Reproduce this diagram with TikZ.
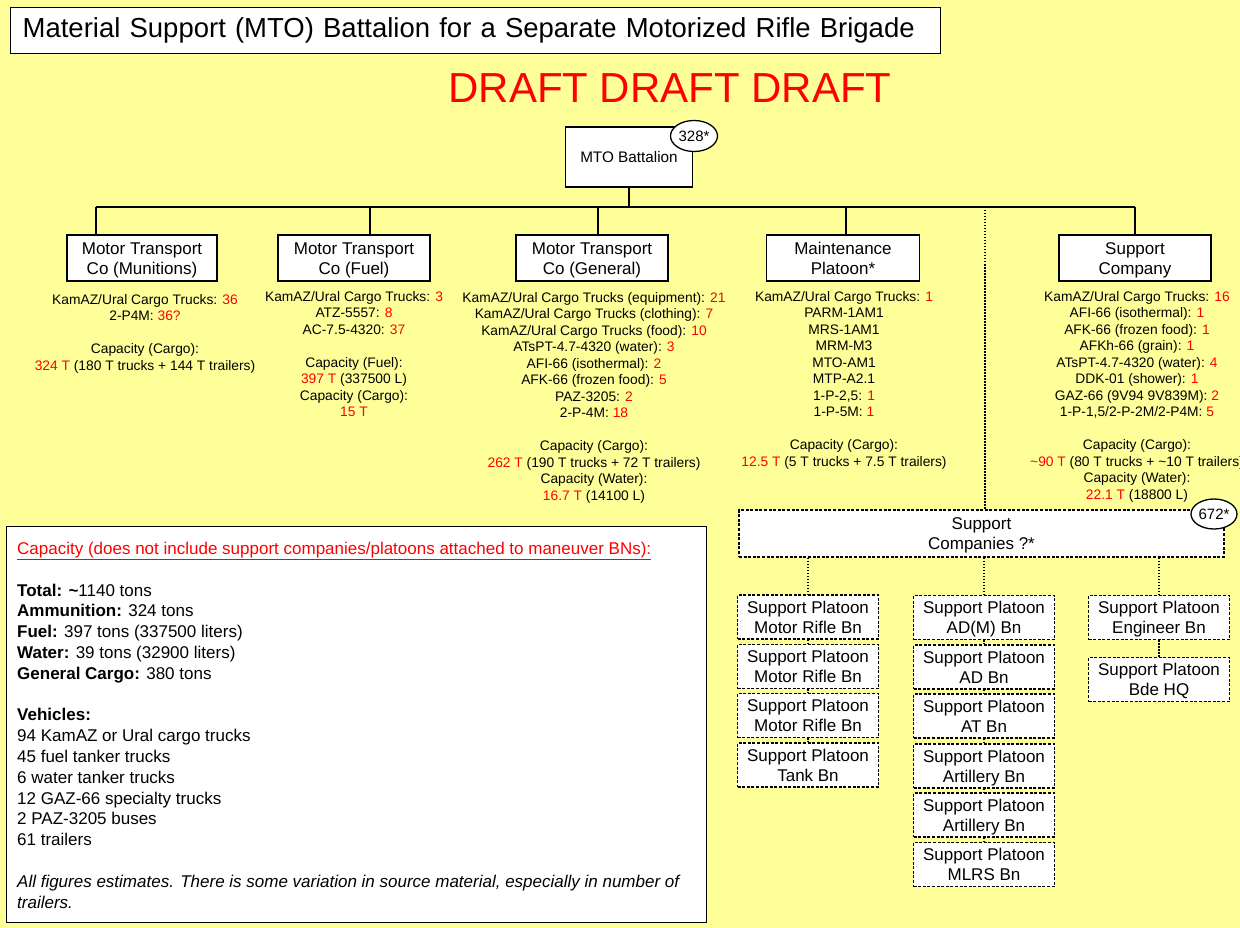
\documentclass[tikz,border=0pt]{standalone}
\usepackage{fontspec}
\setmainfont{Liberation Sans}
\usetikzlibrary{shapes.geometric}
\definecolor{bgyellow}{RGB}{255,255,153}
\definecolor{draftred}{RGB}{255,0,0}
\newcommand\rnum[1]{\textcolor{draftred}{#1}}
\newcommand\fs[2]{\fontsize{#1}{#2}\selectfont}
\newcommand\tstrut{\rule{0pt}{16pt}}
\newcommand\bstrut{\rule[-4pt]{0pt}{4pt}}
\begin{document}
\begin{tikzpicture}[x=1pt,y=-1pt,
  cobox/.style={draw, fill=white, line width=1.8pt, minimum width=#1, minimum height=46pt, align=center, inner sep=0pt, font=\fs{17}{20}},
  plbox/.style={draw, fill=white, line width=1.4pt, dash pattern=on 3pt off 1.6pt, minimum width=141pt, minimum height=44pt, align=center, inner sep=0pt, font=\fs{17}{20}},
  info/.style={align=center, inner sep=0pt, anchor=north, font=\fs{13.8}{16.5}},
  tree/.style={line width=1.5pt},
  dotline/.style={line width=1.5pt, dash pattern=on 1.5pt off 1.5pt},
  tag/.style={draw, fill=white, ellipse, line width=1.3pt, inner sep=0pt, font=\fs{15}{18}}
]
\fill[bgyellow] (0,0) rectangle (1240,928);
\useasboundingbox (0,0) rectangle (1240,928);

% title
\node[draw, fill=white, line width=1.3pt, anchor=north west, text width=906pt, inner xsep=12pt, minimum height=46pt, align=left, font=\fs{27.5}{30}] (title) at (10,7) {Material Support (MTO) Battalion for a Separate Motorized Rifle Brigade};
\node[text=draftred, font=\fs{42}{46}, inner sep=0pt] (draft) at (670,88) {DRAFT DRAFT DRAFT};

% top node
\node[draw, fill=white, line width=1.5pt, minimum width=127pt, minimum height=60pt, inner sep=0pt, font=\fs{15.3}{18}] (mto) at (629,157) {MTO Battalion};
\node[tag, minimum width=47pt, minimum height=31pt] (t328) at (694,136) {328*};

% companies
\node[cobox=150pt] (mun) at (142,258) {\tstrut Motor Transport\\Co (Munitions)\bstrut};
\node[cobox=152pt] (fuel) at (354,258) {\tstrut Motor Transport\\Co (Fuel)\bstrut};
\node[cobox=152pt] (gen) at (592,258) {\tstrut Motor Transport\\Co (General)\bstrut};
\node[cobox=153pt] (mnt) at (843,258) {\tstrut Maintenance\\Platoon*\bstrut};
\node[cobox=152pt] (sup) at (1135,258) {\tstrut Support\\Company\bstrut};

% tree connectors
\coordinate (hl) at (96,207);
\coordinate (hf) at (370,207);
\coordinate (hg) at (598,207);
\coordinate (hm) at (846,207);
\coordinate (hd) at (985,207);
\coordinate (hr) at (1135,207);
\draw[tree] (mto.south) -- (mto.south |- hl);
\draw[tree] (hl) -- (hr);
\draw[tree] (hl) -- (hl |- mun.north);
\draw[tree] (hf) -- (hf |- fuel.north);
\draw[tree] (hg) -- (hg |- gen.north);
\draw[tree] (hm) -- (hm |- mnt.north);
\draw[tree] (hr) -- (sup.north);

% info blocks
\node[info] (imun) at (145,294) {KamAZ/Ural Cargo Trucks: \rnum{36}\\
2-P4M: \rnum{36?}\\[16.5pt]
Capacity (Cargo):\\
\rnum{324 T} (180 T trucks + 144 T trailers)};

\node[info] (ifuel) at (354,291) {KamAZ/Ural Cargo Trucks: \rnum{3}\\
ATZ-5557: \rnum{8}\\
AC-7.5-4320: \rnum{37}\\[16.5pt]
Capacity (Fuel):\\
\rnum{397 T} (337500 L)\\
Capacity (Cargo):\\
\rnum{15 T}};

\node[info] (igen) at (594,292) {KamAZ/Ural Cargo Trucks (equipment): \rnum{21}\\
KamAZ/Ural Cargo Trucks (clothing): \rnum{7}\\
KamAZ/Ural Cargo Trucks (food): \rnum{10}\\
ATsPT-4.7-4320 (water): \rnum{3}\\
AFI-66 (isothermal): \rnum{2}\\
AFK-66 (frozen food): \rnum{5}\\
PAZ-3205: \rnum{2}\\
2-P-4M: \rnum{18}\\[16.5pt]
Capacity (Cargo):\\
\rnum{262 T} (190 T trucks + 72 T trailers)\\
Capacity (Water):\\
\rnum{16.7 T} (14100 L)};

\node[info] (imnt) at (844,291) {KamAZ/Ural Cargo Trucks: \rnum{1}\\
PARM-1AM1\\
MRS-1AM1\\
MRM-M3\\
MTO-AM1\\
MTP-A2.1\\
1-P-2,5: \rnum{1}\\
1-P-5M: \rnum{1}\\[16.5pt]
Capacity (Cargo):\\
\rnum{12.5 T} (5 T trucks + 7.5 T trailers)};

\node[info] (isup) at (1137,291) {KamAZ/Ural Cargo Trucks: \rnum{16}\\
AFI-66 (isothermal): \rnum{1}\\
AFK-66 (frozen food): \rnum{1}\\
AFKh-66 (grain): \rnum{1}\\
ATsPT-4.7-4320 (water): \rnum{4}\\
DDK-01 (shower): \rnum{1}\\
GAZ-66 (9V94 9V839M): \rnum{2}\\
1-P-1,5/2-P-2M/2-P4M: \rnum{5}\\[16.5pt]
Capacity (Cargo):\\
\rnum{\textasciitilde90 T} (80 T trucks + \textasciitilde10 T trailers)\\
Capacity (Water):\\
\rnum{22.1 T} (18800 L)};

% support companies
\node[plbox, minimum width=485pt, minimum height=47pt] (supc) at (981.5,533.5) {\tstrut Support\\Companies ?*\bstrut};
\node[tag, minimum width=46pt, minimum height=30pt] (t672) at (1214,514) {672*};
\draw[dotline] (hd) -- (hd |- supc.north);

% platoons
\node[plbox] (p11) at (808,617) {\tstrut Support Platoon\\Motor Rifle Bn\bstrut};
\node[plbox] (p12) at (808,666.5) {\tstrut Support Platoon\\Motor Rifle Bn\bstrut};
\node[plbox] (p13) at (808,715.5) {\tstrut Support Platoon\\Motor Rifle Bn\bstrut};
\node[plbox] (p14) at (808,765) {\tstrut Support Platoon\\Tank Bn\bstrut};

\node[plbox] (p21) at (984,617.5) {\tstrut Support Platoon\\AD(M) Bn\bstrut};
\node[plbox] (p22) at (984,667) {\tstrut Support Platoon\\AD Bn\bstrut};
\node[plbox] (p23) at (984,716) {\tstrut Support Platoon\\AT Bn\bstrut};
\node[plbox] (p24) at (984,766) {\tstrut Support Platoon\\Artillery Bn\bstrut};
\node[plbox] (p25) at (984,815) {\tstrut Support Platoon\\Artillery Bn\bstrut};
\node[plbox] (p26) at (984,864.5) {\tstrut Support Platoon\\MLRS Bn\bstrut};

\node[plbox] (p31) at (1159,617.5) {\tstrut Support Platoon\\Engineer Bn\bstrut};
\node[plbox] (p32) at (1159,679.5) {\tstrut Support Platoon\\Bde HQ\bstrut};

\draw[dotline] (supc.south -| p11.north) -- (p11.north);
\draw[dotline] (supc.south -| p21.north) -- (p21.north);
\draw[dotline] (supc.south -| p31.north) -- (p31.north);
\draw[dotline] (p11.south) -- (p12.north);
\draw[dotline] (p12.south) -- (p13.north);
\draw[dotline] (p13.south) -- (p14.north);
\draw[dotline] (p21.south) -- (p22.north);
\draw[dotline] (p22.south) -- (p23.north);
\draw[dotline] (p23.south) -- (p24.north);
\draw[dotline] (p24.south) -- (p25.north);
\draw[dotline] (p25.south) -- (p26.north);
\draw[dotline] (p31.south) -- (p32.north);

% capacity summary
\node[draw, fill=white, line width=1.3pt, anchor=north west, minimum width=700pt, minimum height=396pt, inner sep=0pt] (capbox) at (6,526) {};
\node[anchor=north west, inner sep=0pt, align=left, font=\fs{17}{20.8}] (captext) at (17,542) {\textcolor{draftred}{\underline{Capacity (does not include support companies/platoons attached to maneuver BNs):}}\\[20.8pt]
\textbf{Total: \textasciitilde}1140 tons\\
\textbf{Ammunition:} 324 tons\\
\textbf{Fuel:} 397 tons (337500 liters)\\
\textbf{Water:} 39 tons (32900 liters)\\
\textbf{General Cargo:} 380 tons\\[20.8pt]
\textbf{Vehicles:}\\
94 KamAZ or Ural cargo trucks\\
45 fuel tanker trucks\\
6 water tanker trucks\\
12 GAZ-66 specialty trucks\\
2 PAZ-3205 buses\\
61 trailers\\[20.8pt]
\textit{All figures estimates. There is some variation in source material, especially in number of}\\
\textit{trailers.}};
\end{tikzpicture}
\end{document}
